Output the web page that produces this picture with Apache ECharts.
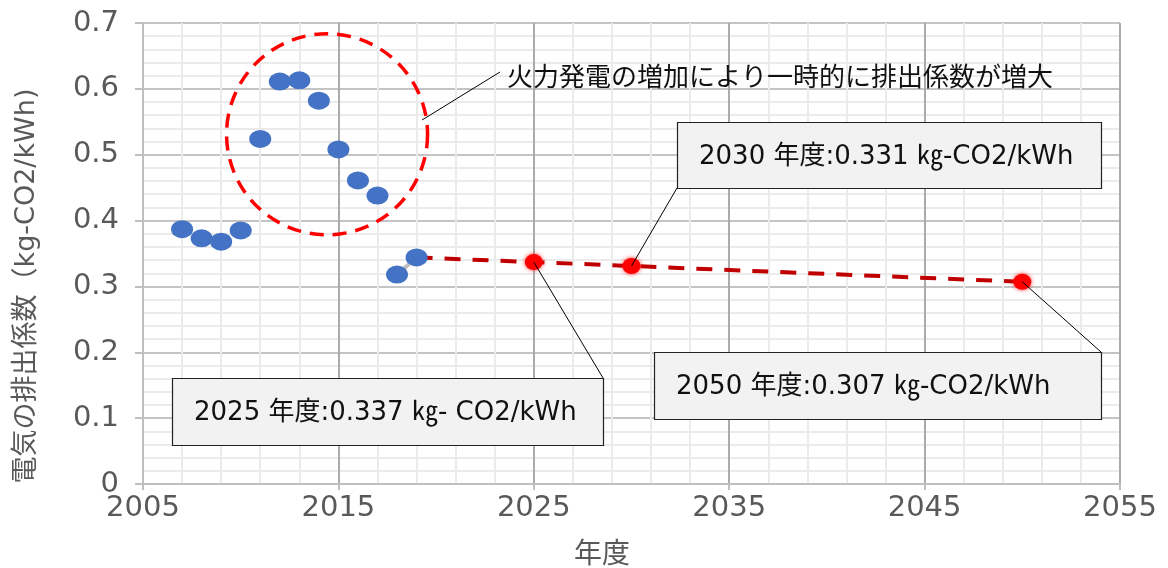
<!DOCTYPE html>
<html><head><meta charset="utf-8">
<script src="https://cdn.jsdelivr.net/npm/echarts@6/dist/echarts.min.js"></script>
<style>html,body{margin:0;padding:0;background:#fff}#c{width:1168px;height:568px}</style>
</head><body><div id="c"></div>
<script>
// ---- data ----
const actualYears  = [2007, 2008, 2009, 2010, 2011, 2012, 2013, 2014, 2015, 2016, 2017, 2018, 2019];
const actualValues = [0.387, 0.373, 0.368, 0.385, 0.524, 0.611, 0.613, 0.582, 0.508, 0.461, 0.438, 0.318, 0.344];
const targetYears  = [2025, 2030, 2050];
const targetValues = [0.337, 0.331, 0.307];
const calloutTexts = ['2025 年度:0.337 ㎏- CO2/kWh', '2030 年度:0.331 ㎏-CO2/kWh', '2050 年度:0.307 ㎏-CO2/kWh'];
const noteText = '火力発電の増加により一時的に排出係数が増大';
const yAxisTitle = '電気の排出係数（kg-CO2/kWh)';
const xAxisTitle = '年度';

const ELLIPSE = 'path://M0,1 A1,1 0 1 1 2,1 A1,1 0 1 1 0,1 Z';
const tickFont = 'DejaVu Sans';
const boxFont = '"DejaVu Sans","Noto Sans CJK JP"';

const actual = actualYears.map((y, i) => [y, actualValues[i]]);
const target = targetYears.map((y, i) => [y, targetValues[i]]);
const trend = [actual[actual.length - 1]].concat(target);
const joinSeg = actual.slice(-2);

const chart = echarts.init(document.getElementById('c'), null, {renderer: 'canvas'});
chart.setOption({
  animation: false,
  grid: {left: 143, right: 48, top: 23, bottom: 84, containLabel: false},
  xAxis: {
    type: 'value', min: 2005, max: 2055, interval: 10,
    axisLine: {show: true, lineStyle: {color: '#bfbfbf', width: 2}},
    axisTick: {show: true, length: 6, lineStyle: {color: '#bfbfbf', width: 2}},
    axisLabel: {color: '#595959', fontFamily: tickFont, fontSize: 29, margin: 10,
      formatter: v => String(v)},
    splitLine: {show: true, lineStyle: {color: '#ababab', width: 2}},
    minorTick: {show: false, splitNumber: 5},
    minorSplitLine: {show: true, lineStyle: {color: '#ebebeb', width: 2}}
  },
  yAxis: {
    type: 'value', min: 0, max: 0.7, interval: 0.1,
    axisLine: {show: true, lineStyle: {color: '#bfbfbf', width: 2}},
    axisTick: {show: true, length: 8, lineStyle: {color: '#bfbfbf', width: 2}},
    axisLabel: {color: '#595959', fontFamily: tickFont, fontSize: 29, margin: 24,
      formatter: v => (v === 0 ? '0' : v.toFixed(1))},
    splitLine: {show: true, lineStyle: {color: '#c4c4c4', width: 2}},
    minorTick: {show: false, splitNumber: 5},
    minorSplitLine: {show: true, lineStyle: {color: '#ebebeb', width: 2}}
  },
  series: [
    {type: 'line', data: joinSeg, symbol: 'none', z: 2,
     lineStyle: {color: '#bfbfbf', width: 4}},
    {type: 'line', data: trend, symbol: 'none', z: 2,
     lineStyle: {color: '#c00000', width: 4, type: [16, 12]}},
    {type: 'scatter', data: actual, symbol: ELLIPSE, symbolSize: [22, 18], z: 4,
     itemStyle: {color: '#4472c4', opacity: 1}},
    {type: 'scatter', data: target, symbol: ELLIPSE, symbolSize: [18, 16], z: 4,
     itemStyle: {color: '#ff0000', shadowBlur: 4, shadowColor: 'rgba(255,0,0,0.8)', opacity: 1}},
    {type: 'scatter', data: [[2014.42, 0.531]], symbol: 'circle', symbolSize: 201, z: 3, silent: true,
     itemStyle: {color: 'rgba(0,0,0,0)', borderColor: '#ff0000', borderWidth: 3.5, borderType: [14, 9], opacity: 1}}
  ]
});

const px = p => chart.convertToPixel({gridIndex: 0}, p);
const boxes = [
  {x: 172, y: 378, w: 431, h: 67, ax: 603, ay: 378},
  {x: 677, y: 122, w: 424, h: 66, ax: 677, ay: 188},
  {x: 654, y: 352, w: 447, h: 67, ax: 1101, ay: 352}
];
const graphics = [];
boxes.forEach((b, i) => {
  const p = px(target[i]);
  graphics.push({type: 'line', z: 50, shape: {x1: p[0], y1: p[1], x2: b.ax, y2: b.ay},
    style: {stroke: '#000', lineWidth: 1}});
  graphics.push({type: 'rect', z: 51, shape: {x: b.x + 0.5, y: b.y + 0.5, width: b.w, height: b.h},
    style: {fill: '#f2f2f2', stroke: '#222', lineWidth: 1.2}});
  graphics.push({type: 'text', z: 52, x: b.x + 22, y: b.y + b.h / 2 + 2,
    style: {text: calloutTexts[i], font: '26px ' + boxFont, fill: '#111', verticalAlign: 'middle', align: 'left'}});
});
graphics.push({type: 'line', z: 50, shape: {x1: 422, y1: 120, x2: 500, y2: 72}, style: {stroke: '#000', lineWidth: 1}});
graphics.push({type: 'text', z: 52, x: 507, y: 76,
  style: {text: noteText, font: '26px "Noto Sans CJK JP"', fill: '#111', verticalAlign: 'middle', align: 'left'}});
graphics.push({type: 'text', z: 52, x: 27, y: 286, rotation: Math.PI / 2,
  style: {text: yAxisTitle, font: '27px "DejaVu Sans","Noto Sans CJK JP"', fill: '#595959', verticalAlign: 'middle', align: 'center'}});
graphics.push({type: 'text', z: 52, x: 602, y: 552,
  style: {text: xAxisTitle, font: '28px "Noto Sans CJK JP"', fill: '#595959', verticalAlign: 'middle', align: 'center'}});
chart.setOption({graphic: graphics});
</script>
</body></html>
